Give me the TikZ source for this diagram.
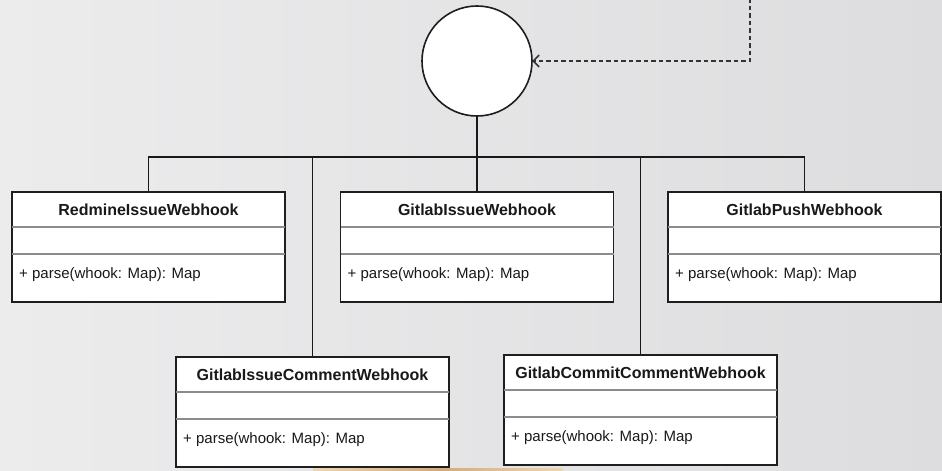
\documentclass[tikz,border=0pt]{standalone}
\usepackage{fontspec}
\setmainfont{Liberation Sans}
\usetikzlibrary{arrows.meta,calc}
\definecolor{bgL}{RGB}{236,236,237}
\definecolor{bgR}{RGB}{221,221,223}
\definecolor{boxline}{RGB}{30,30,30}
\definecolor{divline}{RGB}{140,140,140}
\definecolor{tanA}{RGB}{236,214,178}
\definecolor{tanB}{RGB}{210,170,122}
\tikzset{
  classbox/.style={draw=boxline, line width=1.6pt, fill=white, minimum width=273pt, minimum height=110pt, anchor=north west, inner sep=0pt, outer sep=0pt},
  classtitle/.style={font=\fontsize{16}{19}\selectfont\bfseries, text=black!90, inner sep=0pt},
  classop/.style={font=\fontsize{15}{18}\selectfont, text=black!90, anchor=west, inner sep=0pt},
  divider/.style={draw=divline, line width=1.1pt},
  conn/.style={draw=black!90, line width=1.8pt},
  depend/.style={draw=black!80, line width=1.9pt, dash pattern=on 4.5pt off 3pt, -{Straight Barb[length=6pt,width=12pt,line width=1.6pt]}},
  iface/.style={circle, draw=boxline, line width=1.6pt, fill=white, minimum size=110pt, inner sep=0pt, outer sep=0pt}
}
\newcommand{\umlclass}[4]{%
  \node[classbox] (#1) at (#2,#3) {};
  \node[classtitle] (#1t) at ($(#1.north)+(0,17.5)$) {#4};
  \draw[divider] ($(#1.north west)+(0,35)$) -- ($(#1.north east)+(0,35)$);
  \draw[divider] ($(#1.north west)+(0,62)$) -- ($(#1.north east)+(0,62)$);
  \node[classop] (#1o) at ($(#1.north west)+(7,83)$) {+ parse(whook: Map): Map};
}
\begin{document}
\begin{tikzpicture}[x=1pt,y=-1pt]
\useasboundingbox (0,0) rectangle (942,471);
\shade[left color=bgL, right color=bgR] (0,0) rectangle (942,471);
% tan strip at bottom
\shade[left color=tanA, right color=tanA, middle color=tanB] (313,468) rectangle (563,472);

\node[iface] (circ) at (477,61) {};
\coordinate (src) at (750,-2);
\coordinate (bus) at (477,157);

\umlclass{redmine}{12}{192}{RedmineIssueWebhook}
\umlclass{issue}{340.5}{192}{GitlabIssueWebhook}
\umlclass{push}{668}{192}{GitlabPushWebhook}
\umlclass{icomment}{176}{357}{GitlabIssueCommentWebhook}
\umlclass{ccomment}{504}{355}{GitlabCommitCommentWebhook}

\draw[conn] (circ.south) -- (issue.north);
\draw[conn] (redmine.north) -- (redmine.north |- bus) -- (push.north |- bus) -- (push.north);
\draw[conn] (icomment.north) -- (icomment.north |- bus);
\draw[conn] (ccomment.north) -- (ccomment.north |- bus);
\draw[depend] (src) |- (circ.east);
\end{tikzpicture}
\end{document}
